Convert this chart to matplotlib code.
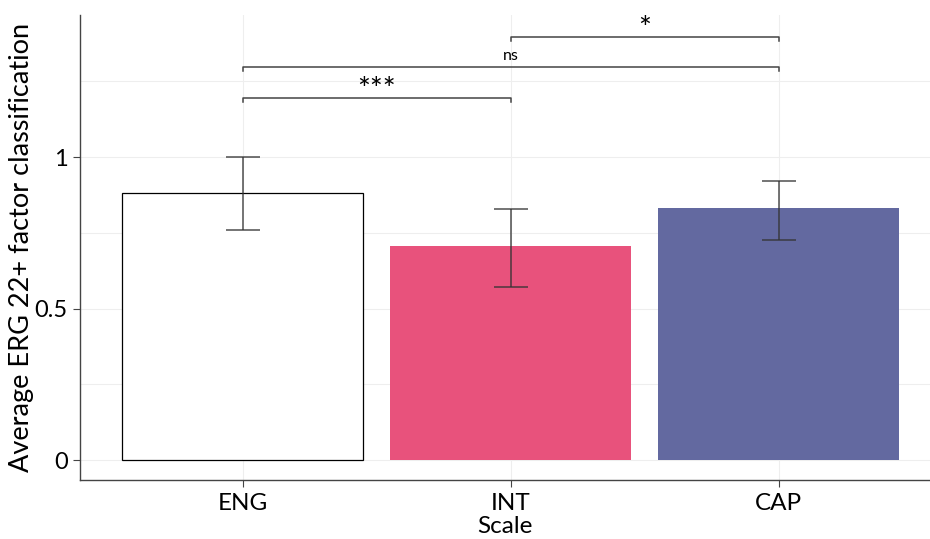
import matplotlib
matplotlib.use("Agg")
import matplotlib.pyplot as plt
import numpy as np

categories = ["ENG", "INT", "CAP"]
means = [0.881, 0.706, 0.832]
err_low = [0.759, 0.571, 0.726]
err_high = [1.0, 0.828, 0.921]
bar_colors = ["white", "#E8527C", "#6369A0"]
edge_colors = ["black", "none", "none"]
comparisons = [(0, 1, "***", 1.195), (0, 2, "ns", 1.297), (1, 2, "*", 1.396)]
yticks = [0, 0.5, 1]
yticklabels = ["0", "0.5", "1"]

plt.rcParams['font.family'] = ['Lato', 'DejaVu Sans']

fig = plt.figure(figsize=(9.3, 5.39), dpi=100)
ax = fig.add_axes([80/930, (539-480)/539, 850/930, (480-15)/539])

x = np.arange(len(categories))
for i in range(len(categories)):
    ax.bar(x[i], means[i], width=0.9, color=bar_colors[i], edgecolor=edge_colors[i],
           linewidth=0.9 if edge_colors[i] != "none" else 0, zorder=2)
lower = np.array(means) - np.array(err_low)
upper = np.array(err_high) - np.array(means)
ax.errorbar(x, means, yerr=[lower, upper], fmt="none", ecolor="#333333", alpha=0.8,
            elinewidth=1.2, capsize=12, capthick=1.2, zorder=3)

for a, b, label, y in comparisons:
    h = 0.012
    ax.plot([x[a], x[a], x[b], x[b]], [y - h, y, y, y - h], color="#444444", lw=1.1, zorder=4)
    fs = 11.5 if label == "ns" else 22
    dy = 0.012 if label == "ns" else -0.02
    ax.text((x[a] + x[b]) / 2, y + dy, label, ha="center", va="bottom", fontsize=fs, color="black")

ax.set_xlim(-0.608, 2.565)
ax.set_ylim(-0.066, 1.469)
ax.set_xticks(x)
ax.set_xticklabels(categories, fontsize=17.5)
ax.set_yticks(yticks)
ax.set_yticklabels(yticklabels, fontsize=17)
ax.set_yticks([0.25, 0.75, 1.25], minor=True)
ax.tick_params(axis="y", which="minor", length=0)
ax.grid(True, which="both", color="#eeeeee", lw=0.8, zorder=0)
ax.set_axisbelow(True)
ax.tick_params(axis="both", which="major", length=5, color="#444444", pad=4)
for s in ["top", "right"]:
    ax.spines[s].set_visible(False)
for s in ["left", "bottom"]:
    ax.spines[s].set_color("#444444")
    ax.spines[s].set_linewidth(1.0)
ax.set_xlabel("Scale", fontsize=17.5, labelpad=1.5)
ax.set_ylabel("Average ERG 22+ factor classification", fontsize=19.5, labelpad=0)

fig.savefig("out.png", dpi=100)
